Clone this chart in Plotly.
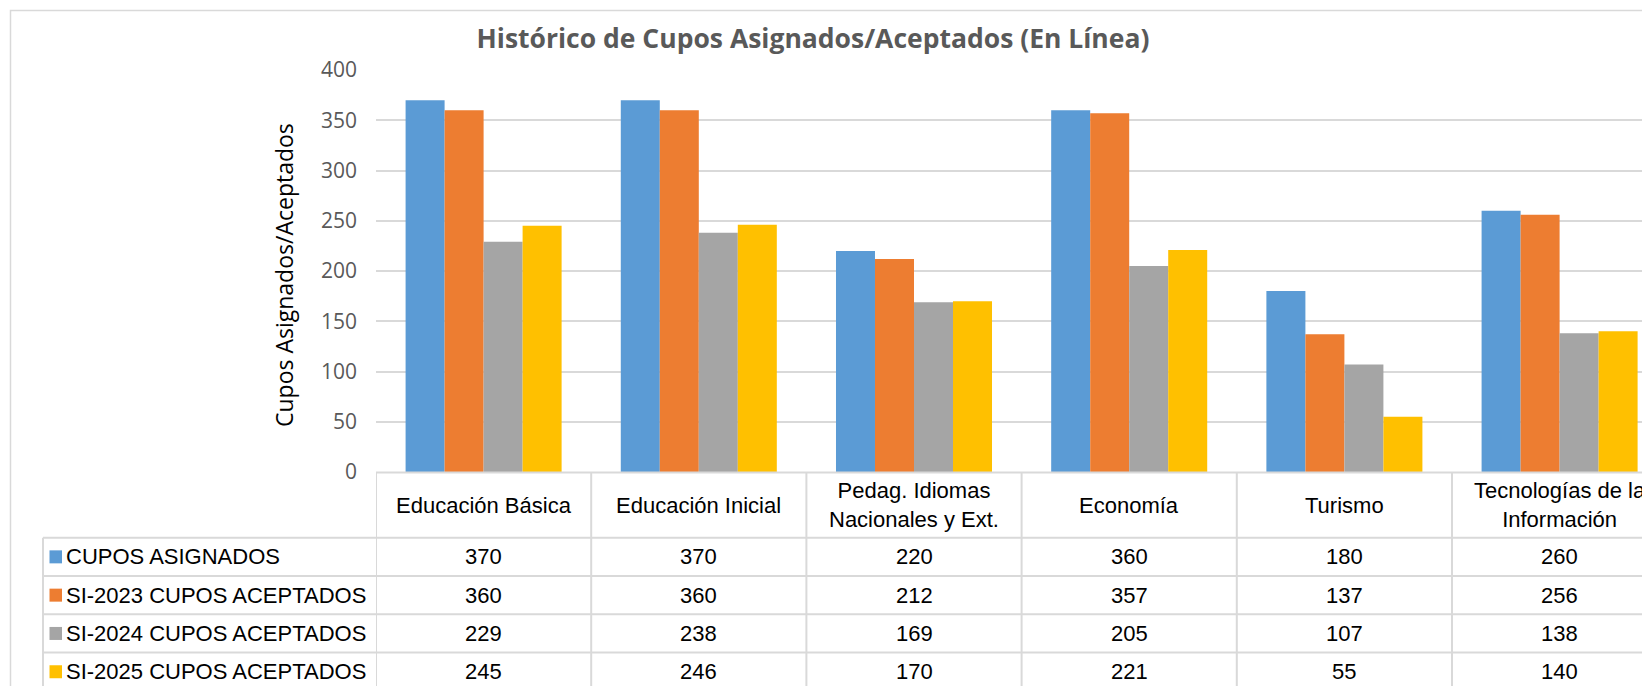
import plotly.graph_objects as go

# datos del grafico
categorias = ["Educación Básica", "Educación Inicial", "Pedag. Idiomas Nacionales y Ext.",
              "Economía", "Turismo", "Tecnologías de la Información"]
encabezados = ["Educación Básica", "Educación Inicial", "Pedag. Idiomas<br>Nacionales y Ext.",
               "Economía", "Turismo", "Tecnologías de la<br>Información"]
series = ["CUPOS ASIGNADOS", "SI-2023 CUPOS ACEPTADOS", "SI-2024 CUPOS ACEPTADOS", "SI-2025 CUPOS ACEPTADOS"]
cupos_asignados = [370, 370, 220, 360, 180, 260]
aceptados_2023 = [360, 360, 212, 357, 137, 256]
aceptados_2024 = [229, 238, 169, 205, 107, 138]
aceptados_2025 = [245, 246, 170, 221, 55, 140]
valores = [cupos_asignados, aceptados_2023, aceptados_2024, aceptados_2025]
colores = ["#5B9BD5", "#ED7D31", "#A5A5A5", "#FFC000"]

W, H = 1650, 686
OFF = 8                # margen del body de la pagina
ML, MT, MB = 368, 62, 222
PW, PH = W - ML, H - MT - MB
CAT_W = 215.2          # ancho de cada categoria en px
ROW_H = 38.3
HEAD_T = 472.5
HEAD_B = 537.7         # borde inferior de la fila de encabezado
GRID = "#D9D9D9"


# coordenadas de pagina -> paper
def px(x):
    return (x - OFF - ML) / PW


def py(y):
    return (H - MB - (y - OFF)) / PH


fig = go.Figure()
for nombre, vals, col in zip(series, valores, colores):
    fig.add_trace(go.Bar(x=categorias, y=vals, name=nombre,
                         marker=dict(color=col, line=dict(width=0))))

shapes = []
annotations = []

# borde exterior del grafico
shapes.append(dict(type="rect", xref="paper", yref="paper",
                   x0=px(10.5), x1=px(1720), y0=py(10.5), y1=py(760),
                   line=dict(color=GRID, width=1.5), layer="below"))

# tabla de datos: lineas verticales por categoria
for i in range(len(categorias) + 1):
    shapes.append(dict(type="line", xref="x", yref="paper",
                       x0=i - 0.5, x1=i - 0.5, y0=py(HEAD_T), y1=py(760),
                       line=dict(color=GRID, width=2)))
shapes.append(dict(type="line", xref="x", yref="paper", x0=-0.5, x1=6,
                   y0=py(HEAD_T), y1=py(HEAD_T), line=dict(color=GRID, width=2)))
shapes.append(dict(type="line", xref="paper", yref="paper", x0=px(43), x1=px(43),
                   y0=py(HEAD_B), y1=py(760), line=dict(color=GRID, width=2)))
for r in range(len(series) + 1):
    yy = py(HEAD_B + r * ROW_H)
    shapes.append(dict(type="line", xref="paper", yref="paper", x0=px(43), x1=1.05,
                       y0=yy, y1=yy, line=dict(color=GRID, width=2)))

tabla_font = dict(family="Liberation Sans, Arial", size=22, color="#000000")

for cat, enc in zip(categorias, encabezados):
    annotations.append(dict(x=cat, xref="x", yref="paper", y=py((HEAD_T + HEAD_B) / 2),
                            text=enc, showarrow=False, font=tabla_font,
                            xanchor="center", yanchor="middle"))

for r, (nombre, vals, col) in enumerate(zip(series, valores, colores)):
    yc = HEAD_B + (r + 0.5) * ROW_H
    shapes.append(dict(type="rect", xref="paper", yref="paper",
                       x0=px(49.5), x1=px(62), y0=py(yc - 6.5), y1=py(yc + 6.5),
                       fillcolor=col, line=dict(width=0)))
    annotations.append(dict(x=px(64), xref="paper", yref="paper", y=py(yc),
                            text=nombre, showarrow=False, font=tabla_font,
                            xanchor="left", yanchor="middle"))
    for cat, v in zip(categorias, vals):
        annotations.append(dict(x=cat, xref="x", yref="paper", y=py(yc),
                                text=str(v), showarrow=False, font=tabla_font,
                                xanchor="center", yanchor="middle"))

# titulo del eje y
annotations.append(dict(x=px(284), xref="paper", yref="paper", y=py(275),
                        text="Cupos Asignados/Aceptados", textangle=-90, showarrow=False,
                        font=dict(family="Open Sans", size=23, color="#000000"),
                        xanchor="center", yanchor="middle"))

fig.update_layout(
    width=W, height=H,
    margin=dict(l=ML, r=0, t=MT, b=MB),
    paper_bgcolor="white", plot_bgcolor="white",
    barmode="group", bargap=0.275, bargroupgap=0,
    showlegend=False,
    title=dict(text="<b>Histórico de Cupos Asignados/Aceptados (En Línea)</b>",
               x=px(813), xref="paper", xanchor="center",
               y=1 - (39 - OFF) / H, yref="container", yanchor="middle",
               font=dict(family="Open Sans", size=26.5, color="#595959")),
    xaxis=dict(range=[-0.5, -0.5 + PW / CAT_W], showticklabels=False, showgrid=False,
               zeroline=False, showline=False, ticks=""),
    yaxis=dict(range=[0, 400], dtick=50, showgrid=True, gridcolor=GRID, gridwidth=1.5,
               zeroline=False, showline=False, ticks="", ticklabelstandoff=18,
               tickfont=dict(family="Open Sans", size=21, color="#595959")),
    shapes=shapes,
    annotations=annotations,
)

fig.write_html("out.html")
